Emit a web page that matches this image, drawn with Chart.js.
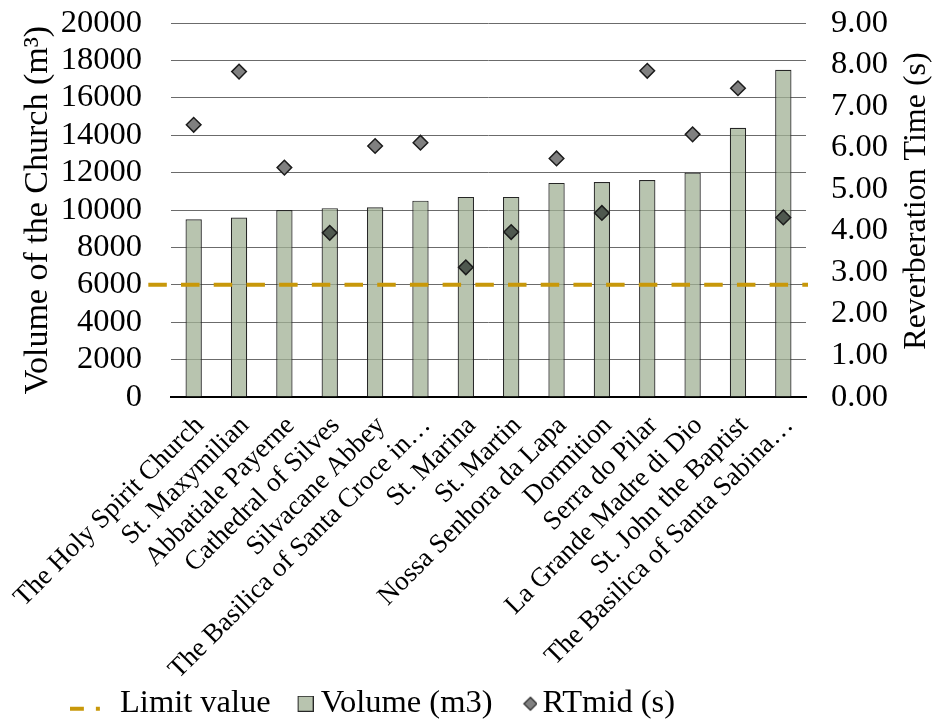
<!DOCTYPE html>
<html>
<head>
<meta charset="utf-8">
<script src="https://cdn.jsdelivr.net/npm/chart.js@4/dist/chart.umd.min.js"></script>
<style>
  html, body { margin: 0; padding: 0; background: #ffffff; }
  #wrap { width: 934px; height: 726px; }
</style>
</head>
<body>
<div id="wrap"><canvas id="chart" width="934" height="726"></canvas></div>
<script>
// Churches, ordered by volume
const churches = [
  'The Holy Spirit Church',
  'St. Maxymilian',
  'Abbatiale Payerne',
  'Cathedral of Silves',
  'Silvacane Abbey',
  'The Basilica of Santa Croce in…',
  'St. Marina',
  'St. Martin',
  'Nossa Senhora da Lapa',
  'Dormition',
  'Serra do Pilar',
  'La Grande Madre di Dio',
  'St. John the Baptist',
  'The Basilica of Santa Sabina…'
];

// Volume of each church (m3)
const volumeM3 = [9500, 9600, 10000, 10100, 10150, 10500, 10700, 10700, 11450, 11500, 11600, 12000, 14400, 17500];

// Mid-frequency reverberation time (s)
const rtMid = [6.55, 7.83, 5.52, 3.95, 6.04, 6.12, 3.12, 3.97, 5.74, 4.43, 7.85, 6.32, 7.43, 4.32];

// Limit value on the volume axis
const limitValue = 6000;

// Axis ranges and tick steps: [min, max, step]
const volumeAxis = [0, 20000, 2000];
const rtAxis = [0, 9, 1];

// Legend and axis texts
const legendTexts = ['Limit value', 'Volume (m3)', 'RTmid (s)'];
const volumeTitle = 'Volume of the Church (m³)';
const rtTitle = 'Reverberation Time (s)';

const FONT = "'Liberation Serif', 'Times New Roman', serif";
const BAR_FILL = 'rgba(160, 176, 148, 0.75)';
const BAR_SWATCH = '#b8c4af';
const BAR_EDGE = '#262626';
const DIAMOND = '#808080';
const DIAMOND_IN_BAR = '#4f584f';
const LIMIT_COLOR = '#c8980a';
const GRID = '#6b6b6b';

function marker(w, h, paint) {
  const c = document.createElement('canvas');
  c.width = w; c.height = h;
  paint(c.getContext('2d'));
  return c;
}

// Legend symbols (each canvas is centred on its legend box)
const limitMarker = marker(48, 20, g => {
  g.strokeStyle = LIMIT_COLOR; g.lineWidth = 4; g.setLineDash([20, 12]);
  g.beginPath(); g.moveTo(0, 15); g.lineTo(36, 15); g.stroke();
});
const volumeMarker = marker(50, 16, g => {
  g.fillStyle = BAR_SWATCH; g.fillRect(34.5, 0.5, 15, 15);
  g.strokeStyle = BAR_EDGE; g.lineWidth = 1; g.strokeRect(34.5, 0.5, 15, 15);
});
const rtMarker = marker(54, 16, g => {
  g.fillStyle = DIAMOND; g.strokeStyle = BAR_EDGE; g.lineWidth = 1.2;
  g.beginPath(); g.moveTo(47, 1.5); g.lineTo(53.5, 8); g.lineTo(47, 14.5); g.lineTo(40.5, 8); g.closePath();
  g.fill(); g.stroke();
});

// Dashed limit line across the plot, drawn on top of the bars
const limitLine = {
  id: 'limitLine',
  afterDatasetsDraw(chart) {
    const { ctx, chartArea, scales } = chart;
    const y = scales.y.getPixelForValue(limitValue);
    const halfCat = (scales.x.getPixelForValue(1) - scales.x.getPixelForValue(0)) / 2;
    ctx.save();
    ctx.strokeStyle = LIMIT_COLOR;
    ctx.lineWidth = 4;
    ctx.setLineDash([18.5, 14.2]);
    ctx.beginPath();
    ctx.moveTo(chartArea.left - halfCat, y);
    ctx.lineTo(chartArea.right + 2, y);
    ctx.stroke();
    ctx.restore();
  }
};

// Secondary axis title, reading bottom-to-top
const rightTitle = {
  id: 'rightTitle',
  afterDraw(chart) {
    const { ctx, chartArea, scales } = chart;
    ctx.save();
    ctx.font = '32px ' + FONT;
    ctx.fillStyle = '#000';
    ctx.textAlign = 'center';
    ctx.textBaseline = 'middle';
    ctx.translate(scales.y1.right - 17, (chartArea.top + chartArea.bottom) / 2 - 9);
    ctx.rotate(-Math.PI / 2);
    ctx.fillText(rtTitle, 0, 0);
    ctx.restore();
  }
};

// Place the legend row
const legendShift = {
  id: 'legendShift',
  afterLayout(chart) {
    const lg = chart.legend;
    const w = lg.right - lg.left;
    lg.left = 70;
    lg.right = lg.left + w;
    lg.top += 4;
    lg.bottom += 4;
  }
};

new Chart(document.getElementById('chart'), {
  data: {
    labels: churches,
    datasets: [
      {
        type: 'line',
        label: legendTexts[2],
        data: rtMid,
        yAxisID: 'y1',
        showLine: false,
        order: 0,
        pointStyle: 'rectRot',
        pointRadius: 7.3,
        pointHoverRadius: 7.3,
        pointBorderWidth: 1.5,
        pointBorderColor: '#1c1c1c',
        pointBackgroundColor: ctx => {
          const s = ctx.chart.scales;
          if (!s.y || !s.y1) return DIAMOND;
          const i = ctx.dataIndex;
          return s.y1.getPixelForValue(rtMid[i]) > s.y.getPixelForValue(volumeM3[i]) ? DIAMOND_IN_BAR : DIAMOND;
        }
      },
      {
        type: 'bar',
        label: legendTexts[1],
        data: volumeM3,
        yAxisID: 'y',
        order: 1,
        backgroundColor: BAR_FILL,
        borderColor: BAR_EDGE,
        borderWidth: 1.2,
        categoryPercentage: 1,
        barPercentage: 0.36
      }
    ]
  },
  options: {
    responsive: false,
    animation: false,
    devicePixelRatio: 1,
    layout: { padding: { top: 23, left: 0, right: 0, bottom: 0 } },
    plugins: {
      tooltip: { enabled: false },
      legend: {
        position: 'bottom',
        align: 'start',
        labels: {
          usePointStyle: true,
          pointStyleWidth: 31.75,
          boxHeight: 32.5,
          padding: 2,
          color: '#000',
          font: { family: FONT, size: 32.5 },
          generateLabels: () => [
            { text: legendTexts[0], pointStyle: limitMarker, fontColor: '#000', lineWidth: 0, strokeStyle: 'transparent', fillStyle: 'transparent', hidden: false, datasetIndex: -1 },
            { text: legendTexts[1], pointStyle: volumeMarker, fontColor: '#000', lineWidth: 0, strokeStyle: 'transparent', fillStyle: 'transparent', hidden: false, datasetIndex: 1 },
            { text: legendTexts[2], pointStyle: rtMarker, fontColor: '#000', lineWidth: 0, strokeStyle: 'transparent', fillStyle: 'transparent', hidden: false, datasetIndex: 0 }
          ]
        }
      }
    },
    scales: {
      x: {
        type: 'category',
        offset: true,
        grid: { display: false, drawTicks: false },
        border: { display: true, color: '#000', width: 2 },
        ticks: {
          autoSkip: false,
          maxRotation: 45,
          minRotation: 45,
          padding: 13,
          labelOffset: 6,
          color: '#000',
          font: { family: FONT, size: 27 }
        },
        afterFit(s) {
          s.height = s.chart.height - 397 - s.chart.legend.height;
          s.paddingLeft = 0;
          s.paddingRight = 0;
        }
      },
      y: {
        position: 'left',
        min: volumeAxis[0],
        max: volumeAxis[1],
        grid: { color: GRID, lineWidth: 1, drawTicks: true, tickLength: 29, tickColor: 'transparent' },
        border: { display: false },
        ticks: {
          stepSize: volumeAxis[2],
          autoSkip: false,
          padding: 0,
          color: '#000',
          font: { family: FONT, size: 32.5 },
          callback: v => String(v)
        },
        title: {
          display: true,
          text: volumeTitle,
          color: '#000',
          font: { family: FONT, size: 34 },
          padding: { top: 18, bottom: 0 }
        },
        afterFit(s) { s.width = 171; }
      },
      y1: {
        position: 'right',
        min: rtAxis[0],
        max: rtAxis[1],
        grid: { drawOnChartArea: false, drawTicks: true, tickLength: 25, tickColor: 'transparent' },
        border: { display: false },
        ticks: {
          stepSize: rtAxis[2],
          autoSkip: false,
          padding: 0,
          color: '#000',
          font: { family: FONT, size: 32.5 },
          callback: v => Number(v).toFixed(2)
        },
        afterFit(s) { s.width = 128; }
      }
    }
  },
  plugins: [limitLine, rightTitle, legendShift]
});
</script>
</body>
</html>
